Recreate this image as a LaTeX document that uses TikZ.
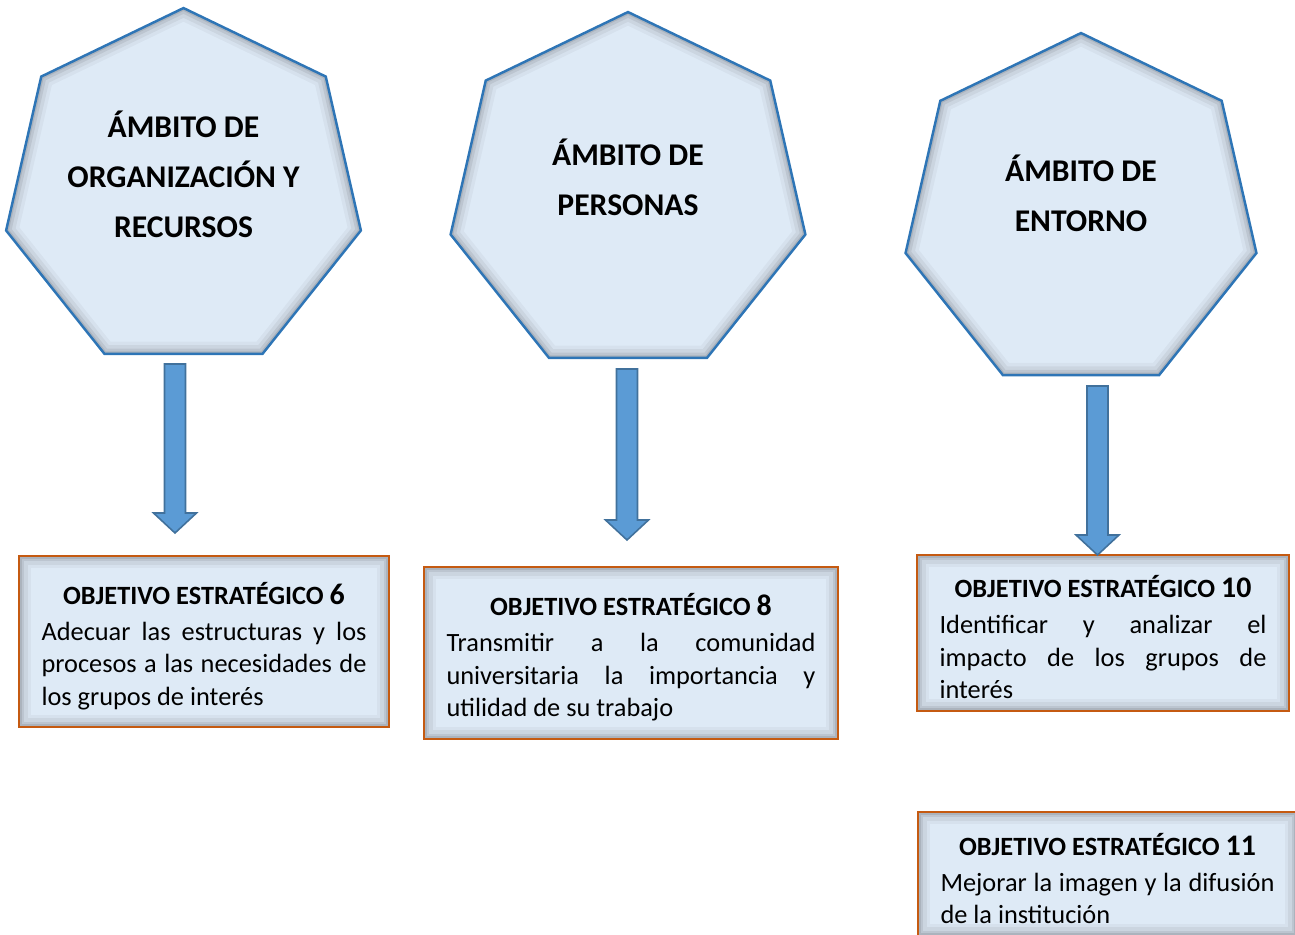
\documentclass[tikz,border=0pt]{standalone}
\usepackage{fontspec}
\setmainfont{Carlito}
\usetikzlibrary{shapes.geometric,calc}
\setlength{\parindent}{0pt}
\definecolor{hepfill}{HTML}{DEEAF6}
\definecolor{hepblue}{HTML}{2E75B6}
\definecolor{boxorange}{HTML}{C55A11}
\definecolor{arrowfill}{HTML}{5B9BD5}
\definecolor{arrowline}{HTML}{41719C}
\newcommand{\heptpath}[1]{(#1.corner 1) -- (#1.corner 2) -- (#1.corner 3) -- (#1.corner 4) -- (#1.corner 5) -- (#1.corner 6) -- (#1.corner 7) -- cycle}
\newcommand{\boxpath}[1]{(#1.south west) rectangle (#1.north east)}
\newcommand{\objtitle}[1]{\makebox[\hsize]{\rule{0pt}{17.5pt}\fontsize{15}{18.5}\selectfont\bfseries OBJETIVO ESTRATÉGICO {\fontsize{17}{18.5}\selectfont #1}}\par\vspace{2pt}}

\begin{document}
\begin{tikzpicture}[x=0.02cm,y=-0.02cm,
	ambito/.style={regular polygon,regular polygon sides=7,minimum size=7.28cm,inner sep=0pt,outer sep=0pt,fill=hepfill},
	ambtext/.style={align=center,font=\fontsize{18}{28.5}\selectfont\bfseries},
	objbox/.style={rectangle,fill=hepfill,inner xsep=0.45cm,inner ysep=0pt,outer sep=0pt,align=justify,font=\fontsize{15}{18.5}\selectfont},
	hepline/.style={draw=hepblue,line width=1.4pt,line join=miter},
	boxline/.style={draw=boxorange,line width=1.6pt},
	downarrow/.style={fill=arrowfill,draw=arrowline,line width=0.9pt,line join=miter,
		to path={($(\tikztostart)+(-10.5,0)$) -- ($(\tikztostart)+(10.5,0)$) -- ($(\tikztotarget)+(10.5,-20)$) -- ($(\tikztotarget)+(21.5,-20)$) -- (\tikztotarget) -- ($(\tikztotarget)+(-21.5,-20)$) -- ($(\tikztotarget)+(-10.5,-20)$) -- cycle}}]
	\useasboundingbox (0,0) rectangle (1295,934);
	\node[ambito] (h1) at (183.5,190) {};
	\node[ambito] (h2) at (628,194) {};
	\node[ambito,minimum size=7.2cm] (h3) at (1081,213) {};
	\foreach \n in {h1,h2,h3}{
		\begin{scope}
			\clip \heptpath{\n};
			\foreach \w/\o in {14/0.035,10/0.05,6/0.07,3/0.09}
				\draw[line width=\w pt,opacity=\o] \heptpath{\n};
		\end{scope}
		\draw[hepline] \heptpath{\n};}
	\node[ambtext] (t1) at ([yshift=0.31cm]h1.center) {ÁMBITO DE\\ORGANIZACIÓN Y\\RECURSOS};
	\node[ambtext] (t2) at ([yshift=0.33cm]h2.center) {ÁMBITO DE\\PERSONAS};
	\node[ambtext] (t3) at ([yshift=0.39cm]h3.center) {ÁMBITO DE\\ENTORNO};
	\node[objbox,text width=6.5cm,minimum width=7.4cm,minimum height=3.42cm] (o6) at (204,641.5) {\objtitle{6}Adecuar las estructuras y los\linebreak procesos a las necesidades de\linebreak los grupos de interés};
	\node[objbox,text width=7.38cm,minimum width=8.28cm,minimum height=3.44cm] (o8) at (631,653) {\objtitle{8}Transmitir a la comunidad\linebreak universitaria la importancia y\linebreak utilidad de su trabajo};
	\node[objbox,text width=6.54cm,minimum width=7.44cm,minimum height=3.12cm] (o10) at (1103,633) {\objtitle{10}Identificar y analizar el\linebreak impacto de los grupos de\linebreak interés};
	\node[objbox,text width=6.68cm,minimum width=7.58cm,minimum height=2.48cm] (o11) at (1107.5,874) {\objtitle{11}Mejorar la imagen y la difusión\linebreak de la institución};
	\foreach \n in {o6,o8,o10,o11}{
		\begin{scope}
			\clip \boxpath{\n};
			\foreach \w/\o in {14/0.035,10/0.05,6/0.07,3/0.09}
				\draw[line width=\w pt,opacity=\o] \boxpath{\n};
		\end{scope}
		\draw[boxline] \boxpath{\n};}
	\coordinate (a1top) at (175,364);
	\coordinate (a1tip) at (175,533);
	\coordinate (a2top) at (627,369);
	\coordinate (a2tip) at (627,540);
	\coordinate (a3top) at (1097.5,386);
	\coordinate (a3tip) at (1097.5,555);
	\draw[downarrow] (a1top) to (a1tip);
	\draw[downarrow] (a2top) to (a2tip);
	\draw[downarrow] (a3top) to (a3tip);
\end{tikzpicture}
\end{document}
